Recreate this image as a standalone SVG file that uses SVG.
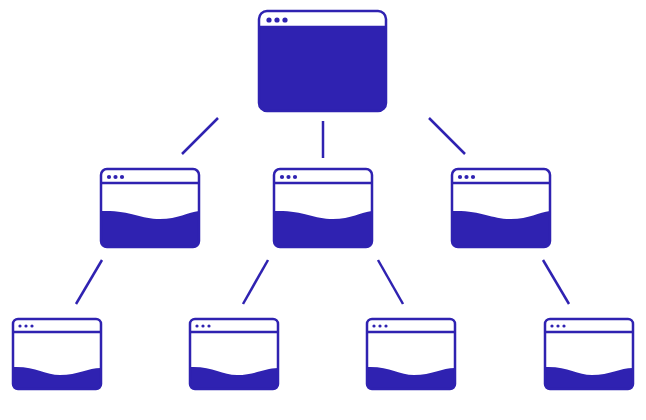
<svg xmlns="http://www.w3.org/2000/svg" xmlns:xlink="http://www.w3.org/1999/xlink" width="646" height="420" viewBox="0 0 646 420">
<style>
.frame{fill:none;stroke:#2f22b1;stroke-width:2.5}
.fill{fill:#2f22b1}
.conn line{stroke:#2f22b1;stroke-width:2.5;stroke-linecap:butt}
</style>
<defs>
<g id="topWin">
<rect x="0" y="0" width="127" height="100" rx="8" fill="#fff"/>
<path class="fill" d="M0,16 L127,16 L127,92 Q127,100 119,100 L8,100 Q0,100 0,92 Z"/>
<rect class="frame" x="0" y="0" width="127" height="100" rx="8"/>
<line class="frame" x1="0" y1="16" x2="127" y2="16"/>
<circle class="fill" cx="10" cy="9" r="2.6"/>
<circle class="fill" cx="18" cy="9" r="2.6"/>
<circle class="fill" cx="26" cy="9" r="2.6"/>
</g>
<g id="midWin">
<rect x="0" y="0" width="98" height="78" rx="6" fill="#fff"/>
<path class="fill" d="M0,42 C29,41 39,50 59,50 C77,50 87,43 98,42 L98,72 Q98,78 92,78 L6,78 Q0,78 0,72 Z"/>
<rect class="frame" x="0" y="0" width="98" height="78" rx="6"/>
<line class="frame" x1="0" y1="14" x2="98" y2="14"/>
<circle class="fill" cx="8" cy="8" r="2.1"/>
<circle class="fill" cx="14.5" cy="8" r="2.1"/>
<circle class="fill" cx="21" cy="8" r="2.1"/>
</g>
<g id="botWin">
<rect x="0" y="0" width="88" height="70" rx="5" fill="#fff"/>
<path class="fill" d="M0,48 C22,47 32,56 47,56 C65,56 75,49 88,49 L88,65 Q88,70 83,70 L5,70 Q0,70 0,65 Z"/>
<rect class="frame" x="0" y="0" width="88" height="70" rx="5"/>
<line class="frame" x1="0" y1="13" x2="88" y2="13"/>
<circle class="fill" cx="7" cy="7" r="1.6"/>
<circle class="fill" cx="13" cy="7" r="1.6"/>
<circle class="fill" cx="19" cy="7" r="1.6"/>
</g>
</defs>
<g class="conn" id="connectors">
<line x1="218" y1="118" x2="182" y2="154"/>
<line x1="323" y1="121" x2="323" y2="158"/>
<line x1="429" y1="118" x2="465" y2="154"/>
<line x1="102" y1="260" x2="76" y2="304"/>
<line x1="268" y1="260" x2="243" y2="304"/>
<line x1="378" y1="260" x2="403" y2="304"/>
<line x1="543" y1="260" x2="569" y2="304"/>
</g>
<g id="root"><use href="#topWin" x="259" y="11"/></g>
<g id="mid1"><use href="#midWin" x="101" y="169"/></g>
<g id="mid2"><use href="#midWin" x="274" y="169"/></g>
<g id="mid3"><use href="#midWin" x="452" y="169"/></g>
<g id="leaf1"><use href="#botWin" x="13" y="319"/></g>
<g id="leaf2"><use href="#botWin" x="190" y="319"/></g>
<g id="leaf3"><use href="#botWin" x="367" y="319"/></g>
<g id="leaf4"><use href="#botWin" x="545" y="319"/></g>
</svg>
